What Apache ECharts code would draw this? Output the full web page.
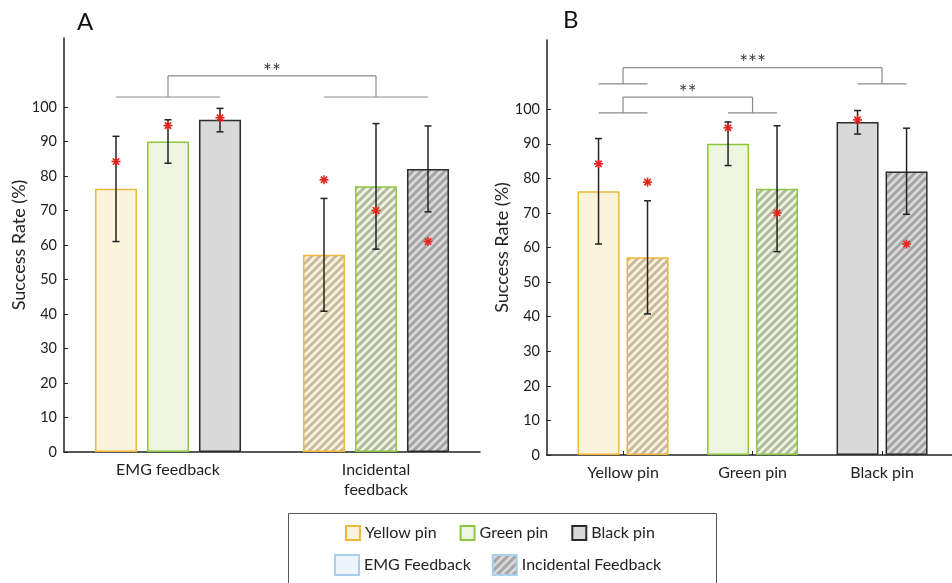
<!DOCTYPE html>
<html>
<head>
<meta charset="utf-8">
<script src="https://cdn.jsdelivr.net/npm/echarts@6/dist/echarts.min.js"></script>
<style>
  html, body { margin: 0; padding: 0; background: #fff; }
  #chart { width: 952px; height: 583px; }
</style>
</head>
<body>
<div id="chart"></div>
<script>
// ---- data ----
const groupsA = ['EMG feedback', 'Incidental\nfeedback'];
const pins = ['Yellow pin', 'Green pin', 'Black pin'];
const feedbacks = ['EMG Feedback', 'Incidental Feedback'];
const meanEMG = [76.3, 90, 96.3];
const meanInc = [57.2, 77, 82];
const lowEMG = [61, 83.7, 92.8];
const highEMG = [91.5, 96.3, 99.6];
const lowInc = [40.8, 58.8, 69.6];
const highInc = [73.5, 95.2, 94.5];
const starEMG = [84.2, 94.6, 96.9];
const starInc = [78.9, 70, 61];
const yTicks = [0, 10, 20, 30, 40, 50, 60, 70, 80, 90, 100];
// significance brackets: [left group, right group, base, top]
const sigA = [[1, 2, 102.9, 109]];
const sigALabels = ['**'];
const sigB = [[1, 2, 98.9, 103.5], [1, 3, 107.3, 112]];
const sigBLabels = ['**', '***'];

// ---- styles ----
const fills = ['#fcf3dc', '#eef6e1', '#d9d9d9'];
const borders = ['#f0b73a', '#8dc63f', '#2b2b2b'];
const darks = ['#c6b99e', '#b3b9a0', '#a3a3a3'];
const FONT = 'Lato';
const BAR_W = 42;
const STEP_A = 52; // centre to centre of bars inside a group
const STEP_B = 49;

function hatch(light, dark) {
  const c = document.createElement('canvas');
  c.width = c.height = 8;
  const ctx = c.getContext('2d');
  ctx.fillStyle = light;
  ctx.fillRect(0, 0, 8, 8);
  ctx.strokeStyle = dark;
  ctx.lineWidth = 3;
  for (let k = -1; k <= 1; k++) {
    ctx.beginPath();
    ctx.moveTo(k * 8 - 2, 10);
    ctx.lineTo(k * 8 + 10, -2);
    ctx.stroke();
  }
  return { image: c, repeat: 'repeat' };
}

// error bars: items [x, low, high, slot]
function errSeries(axis, items, step, n) {
  return {
    type: 'custom', xAxisIndex: axis, yAxisIndex: axis, z: 5, silent: true,
    data: items,
    renderItem(params, api) {
      const off = (api.value(3) - (n - 1) / 2) * step;
      const top = api.coord([api.value(0), api.value(2)]);
      const bot = api.coord([api.value(0), api.value(1)]);
      const x = top[0] + off;
      const s = { stroke: '#222', lineWidth: 1.5 };
      return {
        type: 'group', children: [
          { type: 'line', shape: { x1: x, y1: top[1], x2: x, y2: bot[1] }, style: s },
          { type: 'line', shape: { x1: x - 3.5, y1: top[1], x2: x + 3.5, y2: top[1] }, style: s },
          { type: 'line', shape: { x1: x - 3.5, y1: bot[1], x2: x + 3.5, y2: bot[1] }, style: s }
        ]
      };
    }
  };
}

// red asterisks: items [x, y, slot]
function starSeries(axis, items, step, n) {
  return {
    type: 'custom', xAxisIndex: axis, yAxisIndex: axis, z: 6, silent: true,
    data: items,
    renderItem(params, api) {
      const off = (api.value(2) - (n - 1) / 2) * step;
      const p = api.coord([api.value(0), api.value(1)]);
      const x = p[0] + off, y = p[1], r = 4.5, d = 3.2;
      const s = { stroke: '#e3231b', lineWidth: 1.6 };
      return {
        type: 'group', children: [
          { type: 'line', shape: { x1: x - r, y1: y, x2: x + r, y2: y }, style: s },
          { type: 'line', shape: { x1: x, y1: y - r, x2: x, y2: y + r }, style: s },
          { type: 'line', shape: { x1: x - d, y1: y - d, x2: x + d, y2: y + d }, style: s },
          { type: 'line', shape: { x1: x - d, y1: y + d, x2: x + d, y2: y - d }, style: s }
        ]
      };
    }
  };
}

// significance brackets
function sigSeries(axis, items, labels, half) {
  return {
    type: 'custom', xAxisIndex: axis, yAxisIndex: axis, z: 4, silent: true,
    data: items,
    renderItem(params, api) {
      const l = api.coord([api.value(0), api.value(2)]);
      const r = api.coord([api.value(1), api.value(2)]);
      const t = api.coord([api.value(0), api.value(3)]);
      const s = { stroke: '#8a8a8a', lineWidth: 1.2 };
      return {
        type: 'group', children: [
          { type: 'line', shape: { x1: l[0] - half, y1: l[1], x2: l[0] + half, y2: l[1] }, style: s },
          { type: 'line', shape: { x1: r[0] - half, y1: r[1], x2: r[0] + half, y2: r[1] }, style: s },
          { type: 'line', shape: { x1: l[0], y1: l[1], x2: l[0], y2: t[1] }, style: s },
          { type: 'line', shape: { x1: r[0], y1: r[1], x2: r[0], y2: t[1] }, style: s },
          { type: 'line', shape: { x1: l[0], y1: t[1], x2: r[0], y2: t[1] }, style: s },
          {
            type: 'text', x: (l[0] + r[0]) / 2, y: t[1] - 4,
            style: {
              text: labels[params.dataIndex], fill: '#444', fontSize: 21,
              fontFamily: FONT, align: 'center', verticalAlign: 'middle'
            }
          }
        ]
      };
    }
  };
}

function yAxis(grid) {
  return {
    type: 'value', gridIndex: grid, min: 0, max: 120,
    name: 'Success Rate (%)', nameLocation: 'middle', nameGap: 33,
    nameTextStyle: { fontSize: 18, color: '#222', fontFamily: FONT },
    axisLine: { show: true, lineStyle: { color: '#222', width: 1.5 } },
    axisTick: { show: true, inside: true, length: 4, customValues: yTicks, lineStyle: { color: '#222' } },
    axisLabel: { customValues: yTicks, fontSize: 14.5, color: '#222', margin: 7, fontFamily: FONT },
    splitLine: { show: false }
  };
}

function xAxis(grid, min, max, ticks, names) {
  return {
    type: 'value', gridIndex: grid, min: min, max: max,
    axisLine: { show: true, lineStyle: { color: '#222', width: 1.5 } },
    axisTick: { show: true, inside: true, length: 4, customValues: ticks, lineStyle: { color: '#222' } },
    axisLabel: {
      customValues: ticks, formatter: v => names[Math.round(v) - 1],
      fontSize: 16, color: '#222', margin: 8, lineHeight: 20, fontFamily: FONT
    },
    splitLine: { show: false }
  };
}

const seriesA = pins.map((p, j) => ({
  type: 'bar', name: p, xAxisIndex: 0, yAxisIndex: 0,
  barWidth: BAR_W, barGap: ((STEP_A - BAR_W) / BAR_W * 100).toFixed(1) + '%',
  itemStyle: { color: fills[j], borderColor: borders[j], borderWidth: 1.5 },
  data: [
    [1, meanEMG[j]],
    { value: [2, meanInc[j]], itemStyle: { color: hatch(fills[j], darks[j]) } }
  ]
}));

const gapB = ((STEP_B - BAR_W) / BAR_W * 100).toFixed(1) + '%';
const seriesB = [
  {
    type: 'bar', name: feedbacks[0], xAxisIndex: 1, yAxisIndex: 1,
    barWidth: BAR_W, barGap: gapB,
    itemStyle: { color: '#eef5fc', borderColor: '#a8d0ec', borderWidth: 1.5 },
    data: meanEMG.map((v, j) => ({ value: [j + 1, v], itemStyle: { color: fills[j], borderColor: borders[j] } }))
  },
  {
    type: 'bar', name: feedbacks[1], xAxisIndex: 1, yAxisIndex: 1,
    barWidth: BAR_W, barGap: gapB,
    itemStyle: { color: hatch('#dadada', '#a5a5a5'), borderColor: '#a8d0ec', borderWidth: 1.5 },
    data: meanInc.map((v, j) => ({ value: [j + 1, v], itemStyle: { color: hatch(fills[j], darks[j]), borderColor: borders[j] } }))
  }
];

const errA = [], starA = [], errB = [], starB = [];
pins.forEach((p, j) => {
  errA.push([1, lowEMG[j], highEMG[j], j], [2, lowInc[j], highInc[j], j]);
  starA.push([1, starEMG[j], j], [2, starInc[j], j]);
  errB.push([j + 1, lowEMG[j], highEMG[j], 0], [j + 1, lowInc[j], highInc[j], 1]);
  starB.push([j + 1, starEMG[j], 0], [j + 1, starInc[j], 1]);
});

const chart = echarts.init(document.getElementById('chart'));
chart.setOption({
  animation: false,
  textStyle: { fontFamily: FONT },
  title: [
    { text: 'A', left: 72, top: 5, textStyle: { fontSize: 24, fontWeight: 'normal', color: '#111', fontFamily: FONT } },
    { text: 'B', left: 558, top: 3, textStyle: { fontSize: 24, fontWeight: 'normal', color: '#111', fontFamily: FONT } }
  ],
  grid: [
    { left: 64, top: 38, width: 416, height: 414 },
    { left: 547, top: 40, width: 405, height: 415 }
  ],
  xAxis: [
    xAxis(0, 0.5, 2.5, [1, 2], groupsA),
    xAxis(1, 0.413, 3.54, [1, 2, 3], pins)
  ],
  yAxis: [yAxis(0), yAxis(1)],
  legend: [
    {
      data: pins, left: 340, top: 520, itemWidth: 14, itemHeight: 14, itemGap: 23,
      icon: 'rect', selectedMode: false,
      textStyle: { fontSize: 16, color: '#222', fontFamily: FONT }
    },
    {
      data: feedbacks, left: 329, top: 549, itemWidth: 24, itemHeight: 20, itemGap: 21,
      icon: 'rect', selectedMode: false,
      textStyle: { fontSize: 16, color: '#222', fontFamily: FONT }
    }
  ],
  graphic: [
    { type: 'rect', shape: { x: 288.5, y: 513.5, width: 428, height: 90 }, style: { fill: 'none', stroke: '#555', lineWidth: 1 } }
  ],
  series: [
    ...seriesA,
    errSeries(0, errA, STEP_A, 3),
    starSeries(0, starA, STEP_A, 3),
    sigSeries(0, sigA, sigALabels, STEP_A),
    ...seriesB,
    errSeries(1, errB, STEP_B, 2),
    starSeries(1, starB, STEP_B, 2),
    sigSeries(1, sigB, sigBLabels, STEP_B / 2)
  ]
});
window.addEventListener('resize', () => chart.resize());
</script>
</body>
</html>
